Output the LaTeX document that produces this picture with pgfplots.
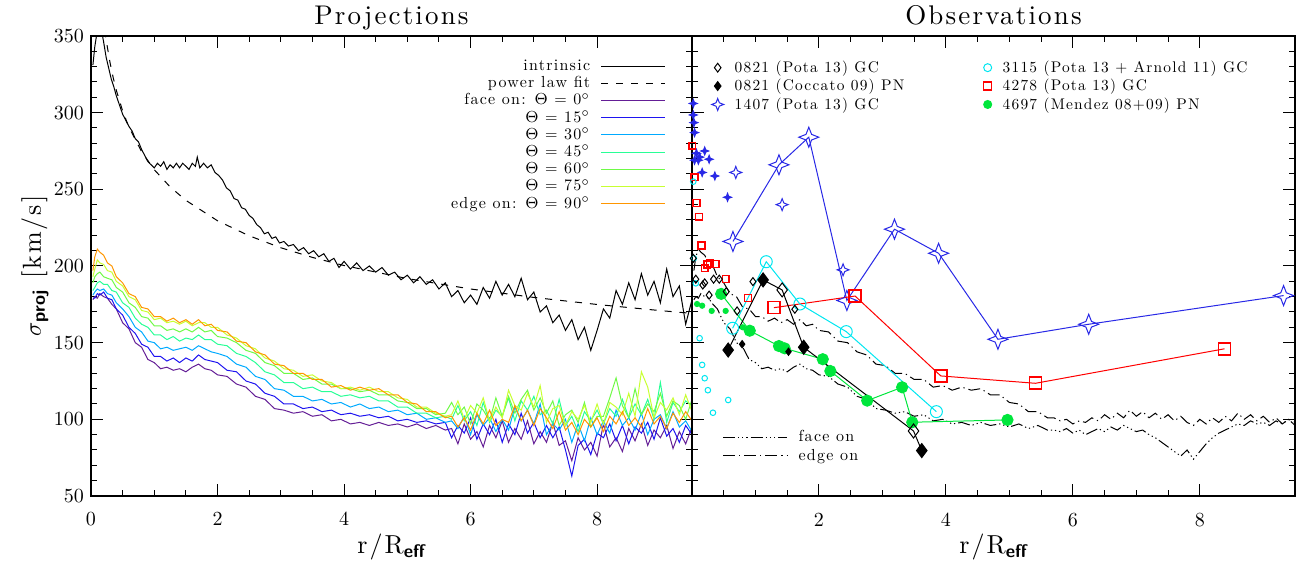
\documentclass[border=0pt]{standalone}
\usepackage{fontspec}
\setmainfont{lmroman10-regular.otf}[LetterSpace=8, BoldFont=lmroman10-bold.otf, ItalicFont=lmroman10-italic.otf]
\usepackage{pgfplots}
\usepackage{pgfplotstable}
\pgfplotsset{compat=1.18}

\definecolor{c0}{RGB}{100,30,150}
\definecolor{c15}{RGB}{30,20,240}
\definecolor{c30}{RGB}{0,170,255}
\definecolor{c45}{RGB}{40,255,150}
\definecolor{c60}{RGB}{110,250,70}
\definecolor{c75}{RGB}{200,255,50}
\definecolor{c90}{RGB}{255,150,0}
\definecolor{sblue}{RGB}{40,40,230}
\definecolor{sred}{RGB}{255,0,0}
\definecolor{scyan}{RGB}{0,230,240}
\definecolor{sgreen}{RGB}{0,230,60}

% 4-point star (open and filled)
\pgfdeclareplotmark{star4}{%
  \pgfpathmoveto{\pgfqpoint{0pt}{\pgfplotmarksize}}%
  \pgfpathlineto{\pgfqpoint{0.28\pgfplotmarksize}{0.28\pgfplotmarksize}}%
  \pgfpathlineto{\pgfqpoint{\pgfplotmarksize}{0pt}}%
  \pgfpathlineto{\pgfqpoint{0.28\pgfplotmarksize}{-0.28\pgfplotmarksize}}%
  \pgfpathlineto{\pgfqpoint{0pt}{-\pgfplotmarksize}}%
  \pgfpathlineto{\pgfqpoint{-0.28\pgfplotmarksize}{-0.28\pgfplotmarksize}}%
  \pgfpathlineto{\pgfqpoint{-\pgfplotmarksize}{0pt}}%
  \pgfpathlineto{\pgfqpoint{-0.28\pgfplotmarksize}{0.28\pgfplotmarksize}}%
  \pgfpathclose\pgfusepathqstroke}
\pgfdeclareplotmark{star4*}{%
  \pgfpathmoveto{\pgfqpoint{0pt}{\pgfplotmarksize}}%
  \pgfpathlineto{\pgfqpoint{0.28\pgfplotmarksize}{0.28\pgfplotmarksize}}%
  \pgfpathlineto{\pgfqpoint{\pgfplotmarksize}{0pt}}%
  \pgfpathlineto{\pgfqpoint{0.28\pgfplotmarksize}{-0.28\pgfplotmarksize}}%
  \pgfpathlineto{\pgfqpoint{0pt}{-\pgfplotmarksize}}%
  \pgfpathlineto{\pgfqpoint{-0.28\pgfplotmarksize}{-0.28\pgfplotmarksize}}%
  \pgfpathlineto{\pgfqpoint{-\pgfplotmarksize}{0pt}}%
  \pgfpathlineto{\pgfqpoint{-0.28\pgfplotmarksize}{0.28\pgfplotmarksize}}%
  \pgfpathclose\pgfusepathqfillstroke}
% open square drawn as a closed polygon
\pgfdeclareplotmark{sq}{%
  \pgfpathmoveto{\pgfqpoint{-\pgfplotmarksize}{-\pgfplotmarksize}}%
  \pgfpathlineto{\pgfqpoint{\pgfplotmarksize}{-\pgfplotmarksize}}%
  \pgfpathlineto{\pgfqpoint{\pgfplotmarksize}{\pgfplotmarksize}}%
  \pgfpathlineto{\pgfqpoint{-\pgfplotmarksize}{\pgfplotmarksize}}%
  \pgfpathclose\pgfusepathqstroke}

% projected dispersion for 7 inclinations
\pgfplotstableread{
x a0 a15 a30 a45 a60 a75 a90
0.03 178 179 181 184 189 193 197
0.06 180 179 183 186 193 198 206
0.10 179 182 185 189 195 204 211
0.14 182 181 184 190 196 202 209
0.20 180 183 185 188 193 201 207
0.26 179 179 182 188 192 197 202
0.33 175 178 181 184 191 196 200
0.40 172 172 176 183 186 190 193
0.50 163 168 172 176 183 187 189
0.60 159 160 167 173 176 180 182
0.70 150 156 160 166 173 178 180
0.80 147 149 157 162 167 171 173
0.90 139 147 151 160 166 170 172
1.00 137 141 150 155 161 165 167
1.10 133 141 146 155 161 166 167
1.20 134 138 147 152 158 163 164
1.30 132 140 145 154 159 164 166
1.40 133 137 146 151 157 162 163
1.50 131 140 147 153 159 164 165
1.60 134 138 145 152 157 161 162
1.70 136 142 148 155 160 163 165
1.80 133 139 146 152 157 163 161
1.90 132 138 144 152 158 160 162
2.00 129 137 143 149 154 160 158
2.15 128 132 141 148 153 155 157
2.30 123 131 136 143 150 153 151
2.45 121 125 134 141 145 148 150
2.60 115 123 128 137 143 146 144
2.75 113 117 126 131 137 140 142
2.90 107 115 120 129 135 138 136
3.05 106 110 119 124 130 133 135
3.20 104 110 115 124 130 132 130
3.35 105 107 115 120 126 128 130
3.50 102 108 112 121 127 129 126
3.65 103 105 113 118 123 125 126
3.80 99 106 110 118 123 124 121
3.95 100 103 111 115 120 120 122
4.10 97 104 108 116 120 121 119
4.25 98 102 110 114 118 119 121
4.40 96 103 107 115 119 121 119
4.55 98 101 108 112 116 118 120
4.70 96 102 105 112 116 118 116
4.85 97 99 106 108 112 114 116
5.00 95 100 103 108 111 113 111
5.15 97 98 104 104 107 108 110
5.30 94 99 100 104 107 108 105
5.45 96 97 101 101 103 104 105
5.60 93 98 98 102 104 102 101
5.70 94 88 99 100 111 103 102
5.80 84 96 94 109 103 112 95
5.90 97 91 102 99 108 100 101
6.00 87 101 90 105 97 109 93
6.10 92 87 103 96 110 104 104
6.20 82 97 96 111 106 114 97
6.30 96 90 101 98 99 99 106
6.40 88 100 92 106 114 108 96
6.50 99 85 100 102 102 101 100
6.60 85 97 93 114 115 119 98
6.70 94 90 108 99 104 109 109
6.80 87 104 99 112 113 106 99
6.90 99 91 106 106 119 117 106
7.00 84 98 97 115 106 108 96
7.10 92 88 110 103 114 122 107
7.20 85 96 90 106 104 98 101
7.30 98 88 97 97 112 107 94
7.40 83 95 93 113 96 109 105
7.50 86 80 100 96 103 96 93
7.60 73 63 85 102 106 105 98
7.70 88 83 97 92 98 100 90
7.80 80 87 86 105 111 109 100
7.90 85 77 101 99 95 98 95
8.00 76 91 90 106 102 110 101
8.10 97 88 99 97 102 97 92
8.20 82 97 91 107 114 111 102
8.30 88 86 106 102 127 108 97
8.40 79 96 96 113 109 103 105
8.50 94 84 101 101 101 117 96
8.60 86 95 93 110 120 102 101
8.70 97 91 104 103 103 131 95
8.80 83 98 90 113 110 121 107
8.90 93 87 100 100 105 101 97
9.00 88 101 103 124 117 111 102
9.10 96 89 94 98 102 106 94
9.20 81 94 105 111 112 114 104
9.30 92 85 95 105 109 103 98
9.40 84 96 99 112 100 116 105
9.50 95 90 92 109 113 105 99
}\proj

% face-on / edge-on curves as drawn in the right panel
\pgfplotstableread{
x f e
0.03 178 197
0.06 180 206
0.10 179 211
0.14 182 209
0.20 180 207
0.26 179 202
0.33 175 200
0.40 172 193
0.50 163 189
0.60 159 182
0.70 150 180
0.80 147 173
0.90 139 172
1.00 137 167
1.10 133 167
1.20 134 164
1.30 132 166
1.40 133 163
1.50 131 165
1.60 134 162
1.70 136 165
1.80 133 161
1.90 132 162
2.00 129 158
2.15 128 157
2.30 123 151
2.45 121 150
2.60 115 144
2.75 113 142
2.90 107 136
3.05 106 135
3.20 104 130
3.35 105 130
3.50 102 126
3.65 103 126
3.80 99 121
3.95 100 122
4.10 97 119
4.25 98 121
4.40 96 119
4.55 98 120
4.70 96 116
4.85 97 116
5.00 95 111
5.15 97 110
5.30 94 105
5.45 96 105
5.60 93 101
5.70 93 101
5.80 92 99
5.90 94 100
6.00 91 97
6.10 93 99
6.20 90 98
6.30 92 101
6.40 94 99
6.50 92 103
6.60 95 100
6.70 93 104
6.80 96 101
6.90 94 106
7.00 92 102
7.10 93 105
7.20 90 101
7.30 88 104
7.40 85 100
7.50 82 103
7.60 79 99
7.70 76 102
7.80 80 98
7.90 74 96
8.00 79 100
8.10 84 97
8.20 88 101
8.30 91 98
8.40 93 102
8.50 95 99
8.60 97 104
8.70 96 100
8.80 99 103
8.90 97 99
9.00 98 102
9.10 96 98
9.20 99 101
9.30 97 97
9.40 100 100
9.50 96 98
}\model

% intrinsic dispersion
\pgfplotstableread{
x y
0.03 331
0.06 343
0.09 351
0.12 357
0.16 355
0.20 346
0.24 336
0.28 329
0.32 322
0.36 317
0.40 311
0.45 305
0.50 299
0.55 295
0.60 291
0.65 288
0.70 283
0.75 281
0.80 276
0.85 272
0.90 268
0.95 266
1.00 264
1.05 267
1.10 265
1.15 268
1.20 263
1.25 266
1.30 264
1.35 267
1.40 264
1.45 267
1.50 265
1.55 263
1.60 267
1.65 265
1.68 271
1.72 264
1.78 267
1.84 264
1.90 266
1.96 261
2.02 259
2.08 256
2.14 251
2.20 249
2.26 244
2.32 243
2.38 238
2.44 237
2.50 233
2.56 231
2.62 227
2.68 225
2.74 221
2.80 222
2.86 218
2.92 219
2.98 215
3.05 216
3.12 213
3.20 214
3.28 210
3.36 212
3.44 208
3.52 210
3.60 206
3.68 208
3.76 203
3.84 205
3.92 199
4.00 203
4.10 198
4.20 202
4.30 197
4.40 200
4.50 196
4.60 199
4.70 194
4.80 196
4.90 191
5.00 194
5.10 189
5.20 193
5.30 188
5.40 191
5.50 185
5.60 189
5.70 180
5.80 184
5.90 176
6.00 181
6.10 175
6.20 186
6.30 179
6.40 190
6.50 181
6.60 188
6.70 180
6.80 192
6.90 178
7.00 183
7.10 170
7.20 174
7.30 163
7.40 168
7.50 158
7.60 165
7.70 152
7.80 160
7.90 145
8.00 158
8.10 172
8.20 166
8.30 184
8.40 175
8.50 189
8.60 178
8.70 195
8.80 181
8.90 190
9.00 176
9.10 198
9.20 180
9.30 187
9.40 162
9.50 178
}\intr

\pgfplotsset{
  panel/.style={
    scale only axis, width=300.5pt, height=230pt,
    xmin=0, xmax=9.5, ymin=50, ymax=350,
    xtick={0,2,4,6,8}, minor x tick num=3,
    ytick={50,100,...,350}, minor y tick num=4,
    tick align=inside, tick pos=both,
    major tick length=6pt, minor tick length=3pt,
    every tick/.style={black, line width=0.5pt},
    axis line style={line width=0.6pt},
    tick label style={font=\fontsize{10}{12}\selectfont},
    xticklabel style={yshift=-5pt},
    label style={font=\fontsize{13}{15}\selectfont},
    every axis title shift=0pt,
    title style={font=\fontsize{13.5}{15}\selectfont, at={(axis description cs:0.5,1.026)}, anchor=base},
    xlabel style={at={(axis description cs:0.5,-0.124)}, anchor=base},
    every axis plot/.append style={line width=0.5pt},
  },
  linelegend/.style={
    legend image code/.code={\draw[##1] (0pt,0pt) -- (32pt,0pt);},
  },
}

\begin{document}
\begin{tikzpicture}
\path[use as bounding box] (-45.5pt,-32.5pt) rectangle (603pt,248pt);

% ---------- left: projections
\begin{axis}[panel, at={(0pt,0pt)}, anchor=south west,
  title={Projections},
  xlabel={r/R\textsubscript{\sffamily\bfseries eff}},
  ylabel={$\sigma$\textsubscript{\sffamily\bfseries proj} [km/s]},
  ylabel style={at={(axis description cs:-0.093,0.5)}, anchor=center},
  linelegend, legend plot pos=right, legend cell align=right,
  legend style={draw=none, fill=none, at={(axis description cs:0.957,0.954)}, anchor=north east,
    inner sep=0pt, font=\fontsize{8}{9}\selectfont, column sep=5pt,
    nodes={inner sep=0.3pt, text height=6.2pt, text depth=1.8pt}},
]
\addplot[black] table[x=x,y=y]{\intr};
\addlegendentry{intrinsic}
\addplot[black, dash pattern=on 3.5pt off 4pt] coordinates {
(0.22,353.7) (0.25,344.9) (0.3,332.8) (0.35,323) (0.4,314.6) (0.5,301.1) (0.6,290.5)
(0.8,274.6) (1.0,262.8) (1.25,251.6) (1.5,242.8) (2,229.5) (2.5,219.7) (3,211.9)
(3.5,205.6) (4,200.3) (5,191.8) (6,185) (7,179.5) (8,174.9) (9,170.9) (9.5,169.1)};
\addlegendentry{power law fit}
\addplot[c0] table[x=x,y=a0]{\proj};
\addlegendentry{face on: $\Theta$ = 0$^\circ$}
\addplot[c15] table[x=x,y=a15]{\proj};
\addlegendentry{$\Theta$ = 15$^\circ$}
\addplot[c30] table[x=x,y=a30]{\proj};
\addlegendentry{$\Theta$ = 30$^\circ$}
\addplot[c45] table[x=x,y=a45]{\proj};
\addlegendentry{$\Theta$ = 45$^\circ$}
\addplot[c60] table[x=x,y=a60]{\proj};
\addlegendentry{$\Theta$ = 60$^\circ$}
\addplot[c75] table[x=x,y=a75]{\proj};
\addlegendentry{$\Theta$ = 75$^\circ$}
\addplot[c90] table[x=x,y=a90]{\proj};
\addlegendentry{edge on: $\Theta$ = 90$^\circ$}
\end{axis}

% ---------- right: model curves (own legend, bottom left)
\begin{axis}[panel, hide axis, at={(300.5pt,0pt)}, anchor=south west, width=301.5pt,
  linelegend, legend plot pos=left, legend cell align=left,
  legend style={draw=none, fill=none, at={(axis description cs:0.05,0.067)}, anchor=south west,
    inner sep=0pt, font=\fontsize{8}{9}\selectfont, column sep=5pt,
    nodes={inner sep=0.5pt, text height=6.4pt, text depth=1.8pt}},
]
\addplot[black, dash pattern=on 6pt off 1.5pt on 0.6pt off 1.5pt on 0.6pt off 1.5pt on 0.6pt off 1.5pt] table[x=x,y=f]{\model};
\addlegendentry{face on}
\addplot[black, dash pattern=on 6pt off 2pt on 0.6pt off 2pt] table[x=x,y=e]{\model};
\addlegendentry{edge on}
\end{axis}

% ---------- right: observations
\begin{axis}[panel, at={(300.5pt,0pt)}, anchor=south west, width=301.5pt,
  title={Observations},
  xlabel={r/R\textsubscript{\sffamily\bfseries eff}},
  xtick={0,2,4,6,8}, xticklabels={{},2,4,6,8}, yticklabels={},
  legend columns=2, legend cell align=left,
  legend image code/.code={\draw[#1] plot coordinates {(0pt,0pt)};},
  legend style={draw=none, fill=none, at={(axis description cs:0.032,0.952)}, anchor=north west,
    inner sep=0pt, font=\fontsize{7.7}{9}\selectfont, column sep=5pt,
    nodes={inner sep=0.5pt, text height=6.4pt, text depth=1.8pt}},
]
% NGC 1407 GC
\addplot[sblue, mark=star4, mark size=5pt, forget plot] coordinates {
(0.645,216) (1.37,266) (1.84,284) (2.44,177.5) (3.19,224) (3.885,208.3) (4.82,152.2) (6.25,162) (9.32,180.7)};
\addplot[sblue, only marks, mark=star4, mark size=3pt, forget plot] coordinates {
(0.69,261) (1.42,240) (2.38,197.5)};
\addplot[sblue, only marks, mark=star4*, mark size=2pt, forget plot] coordinates {
(0.02,306) (0.02,298.5) (0.03,293.5) (0.04,287) (0.2,275) (0.07,273.5) (0.12,271)
(0.1,269) (0.27,269.6) (0.04,269) (0.16,261) (0.36,258.7) (0.56,244.8)};
% NGC 4278 GC
\addplot[sred, mark=sq, mark size=3pt, mark options={line width=0.8pt}, forget plot] coordinates {
(1.29,172.8) (2.57,180.4) (3.92,128.3) (5.41,123.5) (8.39,146)};
\addplot[sred, only marks, mark=sq, mark size=1.7pt, mark options={line width=0.7pt}, forget plot] coordinates {
(0.005,278.5) (0.04,257.8) (0.07,241) (0.11,232.2) (0.15,213.3) (0.2,198.5) (0.24,201)
(0.28,201.8) (0.37,201.3) (0.53,191.6) (0.88,179)};
% NGC 3115 GC
\addplot[scyan, mark=o, mark size=3pt, forget plot] coordinates {
(0.64,159.4) (1.17,202.8) (1.7,175.2) (2.43,157.2) (3.85,105)};
\addplot[scyan, only marks, mark=o, mark size=1.4pt, forget plot] coordinates {
(0.02,255) (0.03,205) (0.06,188.7) (0.12,152.9) (0.16,135.5) (0.2,126.8) (0.25,119)
(0.33,104.3) (0.57,112.6)};
% NGC 4697 PN
\addplot[sgreen, mark=*, mark size=2.8pt, forget plot] coordinates {
(0.46,181.8) (0.91,157.8) (1.37,147.8) (1.46,146.3) (2.06,139.2) (2.18,131.5)
(2.76,112.2) (3.31,120.9) (3.47,98.1) (4.97,99.6)};
\addplot[sgreen, only marks, mark=*, mark size=1.3pt, forget plot] coordinates {
(0.08,175.2) (0.16,174.1) (0.31,170.7) (0.53,170.7) (0.8,160)};
% NGC 0821
\addplot[black, forget plot] coordinates {
(0.57,145.2) (1.12,190.9) (1.42,184.4) (1.76,147) (3.49,92.4) (3.62,79.6)};
\addplot[black, only marks, mark=diamond*, mark size=3.5pt, forget plot] coordinates {
(0.57,145.2) (1.12,190.9) (1.76,147) (3.62,79.6)};
\addplot[black, only marks, mark=diamond, mark size=3.5pt, forget plot] coordinates {
(1.42,184.4) (3.49,92.4)};
\addplot[black, only marks, mark=diamond, mark size=2pt, forget plot] coordinates {
(0.02,205) (0.06,191.4) (0.17,187.6) (0.2,189) (0.27,181) (0.34,191.4) (0.43,191.4)
(0.54,183.3) (0.71,170.7) (0.96,189.8) (1.62,171.8)};
\addplot[black, only marks, mark=diamond*, mark size=1.8pt, forget plot] coordinates {
(0.79,149) (1.52,144.1)};

\addlegendimage{only marks, black, mark=diamond, mark size=2.2pt}
\addlegendentry{\makebox[119pt][l]{0821 (Pota 13) GC}}
\addlegendimage{only marks, scyan, mark=o, mark size=2pt}
\addlegendentry{3115 (Pota 13 + Arnold 11) GC}
\addlegendimage{only marks, black, mark=diamond*, mark size=2.2pt}
\addlegendentry{\makebox[119pt][l]{0821 (Coccato 09) PN}}
\addlegendimage{only marks, sred, mark=sq, mark size=2pt, mark options={line width=0.7pt}}
\addlegendentry{4278 (Pota 13) GC}
\addlegendimage{only marks, sblue, mark=star4, mark size=3pt}
\addlegendentry{\makebox[119pt][l]{1407 (Pota 13) GC}}
\addlegendimage{only marks, sgreen, mark=*, mark size=2pt}
\addlegendentry{4697 (Mendez 08+09) PN}
\end{axis}
\end{tikzpicture}
\end{document}
